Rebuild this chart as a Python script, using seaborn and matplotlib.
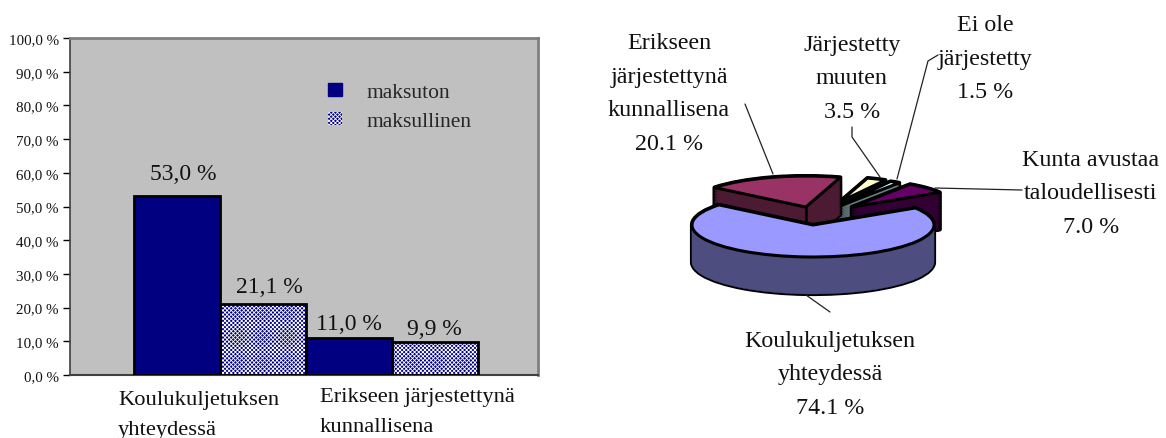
import numpy as np
import pandas as pd
import seaborn as sns
import matplotlib
matplotlib.use("Agg")
import matplotlib.pyplot as plt
from matplotlib.patches import Wedge, Rectangle
from matplotlib.transforms import ScaledTranslation

# ---- data ----
bar_categories = ["Koulukuljetuksen\nyhteydessä", "Erikseen järjestettynä\nkunnallisena"]
series_names = ["maksuton", "maksullinen"]
maksuton = [53.0, 11.0]
maksullinen = [21.1, 9.9]
y_ticks = [0, 10, 20, 30, 40, 50, 60, 70, 80, 90, 100]

pie_names = ["Koulukuljetuksen\nyhteydessä", "Kunta avustaa\ntaloudellisesti", "Ei ole\njärjestetty",
             "Järjestetty\nmuuten", "Erikseen\njärjestettynä\nkunnallisena"]
pie_values = [74.1, 7.0, 1.5, 3.5, 20.1]

# ---- style ----
W, H = 1166, 439
sns.set_theme(style="white")
plt.rcParams["font.family"] = ["Liberation Serif", "DejaVu Serif"]
plt.rcParams["hatch.linewidth"] = 0.6
NAVY = "#000080"
fig = plt.figure(figsize=(W / 100, H / 100), dpi=100, facecolor="white")


def rect(x0, y0, x1, y1):
    return [x0 / W, 1 - y1 / H, (x1 - x0) / W, (y1 - y0) / H]


# ---- bar chart ----
ax = fig.add_axes(rect(70, 39, 538, 376), facecolor="#C0C0C0")
df = pd.DataFrame({
    "cat": bar_categories * 2,
    "series": [series_names[0]] * 2 + [series_names[1]] * 2,
    "value": maksuton + maksullinen,
})
sns.barplot(data=df, x="cat", y="value", hue="series", ax=ax, width=1.0, gap=0,
            palette=[NAVY, NAVY], legend=False, errorbar=None, saturation=1)
ax.set_xlim(-0.872, 1.849)
ax.set_ylim(0, 100)
ax.set_xlabel("")
ax.set_ylabel("")
ax.set_yticks(y_ticks)
ax.set_yticklabels([f"{t},0 %" for t in y_ticks], fontsize=10.8, color="#111111")
ax.tick_params(axis="y", length=5, width=1, color="black", left=True, pad=3)
ax.tick_params(axis="x", length=0)

# per-bar label nudges in pixels (dx, dy above bar top)
label_nudge = [[(6, 12), (0, 4)], [(6, 7), (-1, 3)]]
for c, vals, hatched, nudges in zip(ax.containers, (maksuton, maksullinen), (False, True), label_nudge):
    for p, v, (nx, ny) in zip(c, vals, nudges):
        ax.annotate(f"{v:.1f} %".replace(".", ","), (p.get_x() + p.get_width() / 2, p.get_height()),
                    xytext=(nx * 0.72, ny * 0.72), textcoords="offset points", ha="center", va="bottom",
                    fontsize=17, color="#111111", zorder=5)
        p.set_linewidth(0)
        if hatched:
            p.set_hatch("xxxxxxxx")
            p.set_edgecolor("white")
        ax.add_patch(Rectangle(p.get_xy(), p.get_width(), p.get_height(), fill=False,
                               ec="black", lw=2.0, zorder=3))

for s in ("top", "right"):
    ax.spines[s].set_color("#808080")
    ax.spines[s].set_linewidth(2)
ax.spines["left"].set_color("#404040")
ax.spines["left"].set_linewidth(1.2)
ax.spines["bottom"].set_color("#404040")
ax.spines["bottom"].set_linewidth(1.5)

tick_shift = [(-102, -10), (-72, -7)]
for lab, (dx, dy) in zip(ax.get_xticklabels(), tick_shift):
    lab.set_ha("left")
    lab.set_va("top")
    lab.set_fontsize(16.2)
    lab.set_linespacing(1.8)
    lab.set_color("#111111")
    lab.set_transform(lab.get_transform() + ScaledTranslation(dx / 100, dy / 100, fig.dpi_scale_trans))

handles = [Rectangle((0, 0), 1, 1, fc=NAVY, ec=NAVY),
           Rectangle((0, 0), 1, 1, fc=NAVY, ec="white", hatch="xxxxxxxx", lw=0)]
ax.legend(handles, series_names, frameon=False, fontsize=15.5, loc="upper left",
          bbox_to_anchor=(0.551, 0.866), handlelength=0.65, handleheight=0.5,
          handletextpad=1.16, labelspacing=0.46, borderpad=0, borderaxespad=0)

# ---- exploded 3D pie ----
CX, CY, RX, RY, DEPTH = 813, 226, 121, 32, 37 / 32
pax = fig.add_axes(rect(560, 0, 1166, 439))
pax.set_xlim((560 - CX) / RX, (1166 - CX) / RX)
pax.set_ylim((CY - 439) / RY, CY / RY)
pax.axis("off")
pax.patch.set_alpha(0)

top_cols = ["#9999FF", "#660066", "#CCFFFF", "#FFFFCC", "#993366"]
side_cols = ["#4D4D80", "#330033", "#668080", "#808066", "#4D1A33"]
offsets = [(0, 0), (0.32, 0.56), (0.18, 0.53), (0.22, 0.72), (-0.06, 0.56)]
radii = [1.0, 0.86, 0.95, 0.78, 0.97]
start = 141.0
frac = np.array(pie_values) / sum(pie_values) * 360
spans = []
a = start
for f in frac:
    spans.append((a, a + f))
    a += f

z = 1
for i in [3, 2, 1, 4, 0]:
    (t0, t1), (ox, oy), r = spans[i], offsets[i], radii[i]
    layers = np.linspace(DEPTH, 0, 25)
    for d in layers:
        pax.add_patch(Wedge((ox, oy - d), r, t0, t1, fc="black", ec="black", lw=3.0,
                            joinstyle="round", zorder=z))
    for d in layers:
        pax.add_patch(Wedge((ox, oy - d), r, t0, t1, fc=side_cols[i], ec=side_cols[i], lw=0.3,
                            joinstyle="round", zorder=z))
    pax.add_patch(Wedge((ox, oy), r, t0, t1, fc=top_cols[i], ec="black", lw=2.2, joinstyle="round", zorder=z))
    if i == 4:
        pax.plot([ox, ox], [oy, oy - DEPTH], color="black", lw=1.8, zorder=z)
    z += 1

# ---- leaders and pie labels (pixel positions on the figure) ----
over = fig.add_axes([0, 0, 1, 1])
over.set_xlim(0, W)
over.set_ylim(H, 0)
over.axis("off")
over.patch.set_alpha(0)
leaders = [
    [(745, 105), (773, 175)],
    [(852, 128), (852, 138), (880, 178)],
    [(897, 180), (928, 62), (938, 56)],
    [(935, 189), (1022, 191)],
    [(806, 296), (830, 313)],
]
for seg in leaders:
    xs, ys = zip(*seg)
    over.plot(xs, ys, color="#222222", lw=0.9)

label_pos = [(830, 375), (1091, 194), (985, 59), (852, 79), (669, 94)]
for name, v, (x, y) in zip(pie_names, pie_values, label_pos):
    over.text(x, y, f"{name}\n{v:.1f} %", ha="center", va="center", fontsize=17.3,
              linespacing=1.78, color="#111111")

fig.savefig("out.png", dpi=100)
